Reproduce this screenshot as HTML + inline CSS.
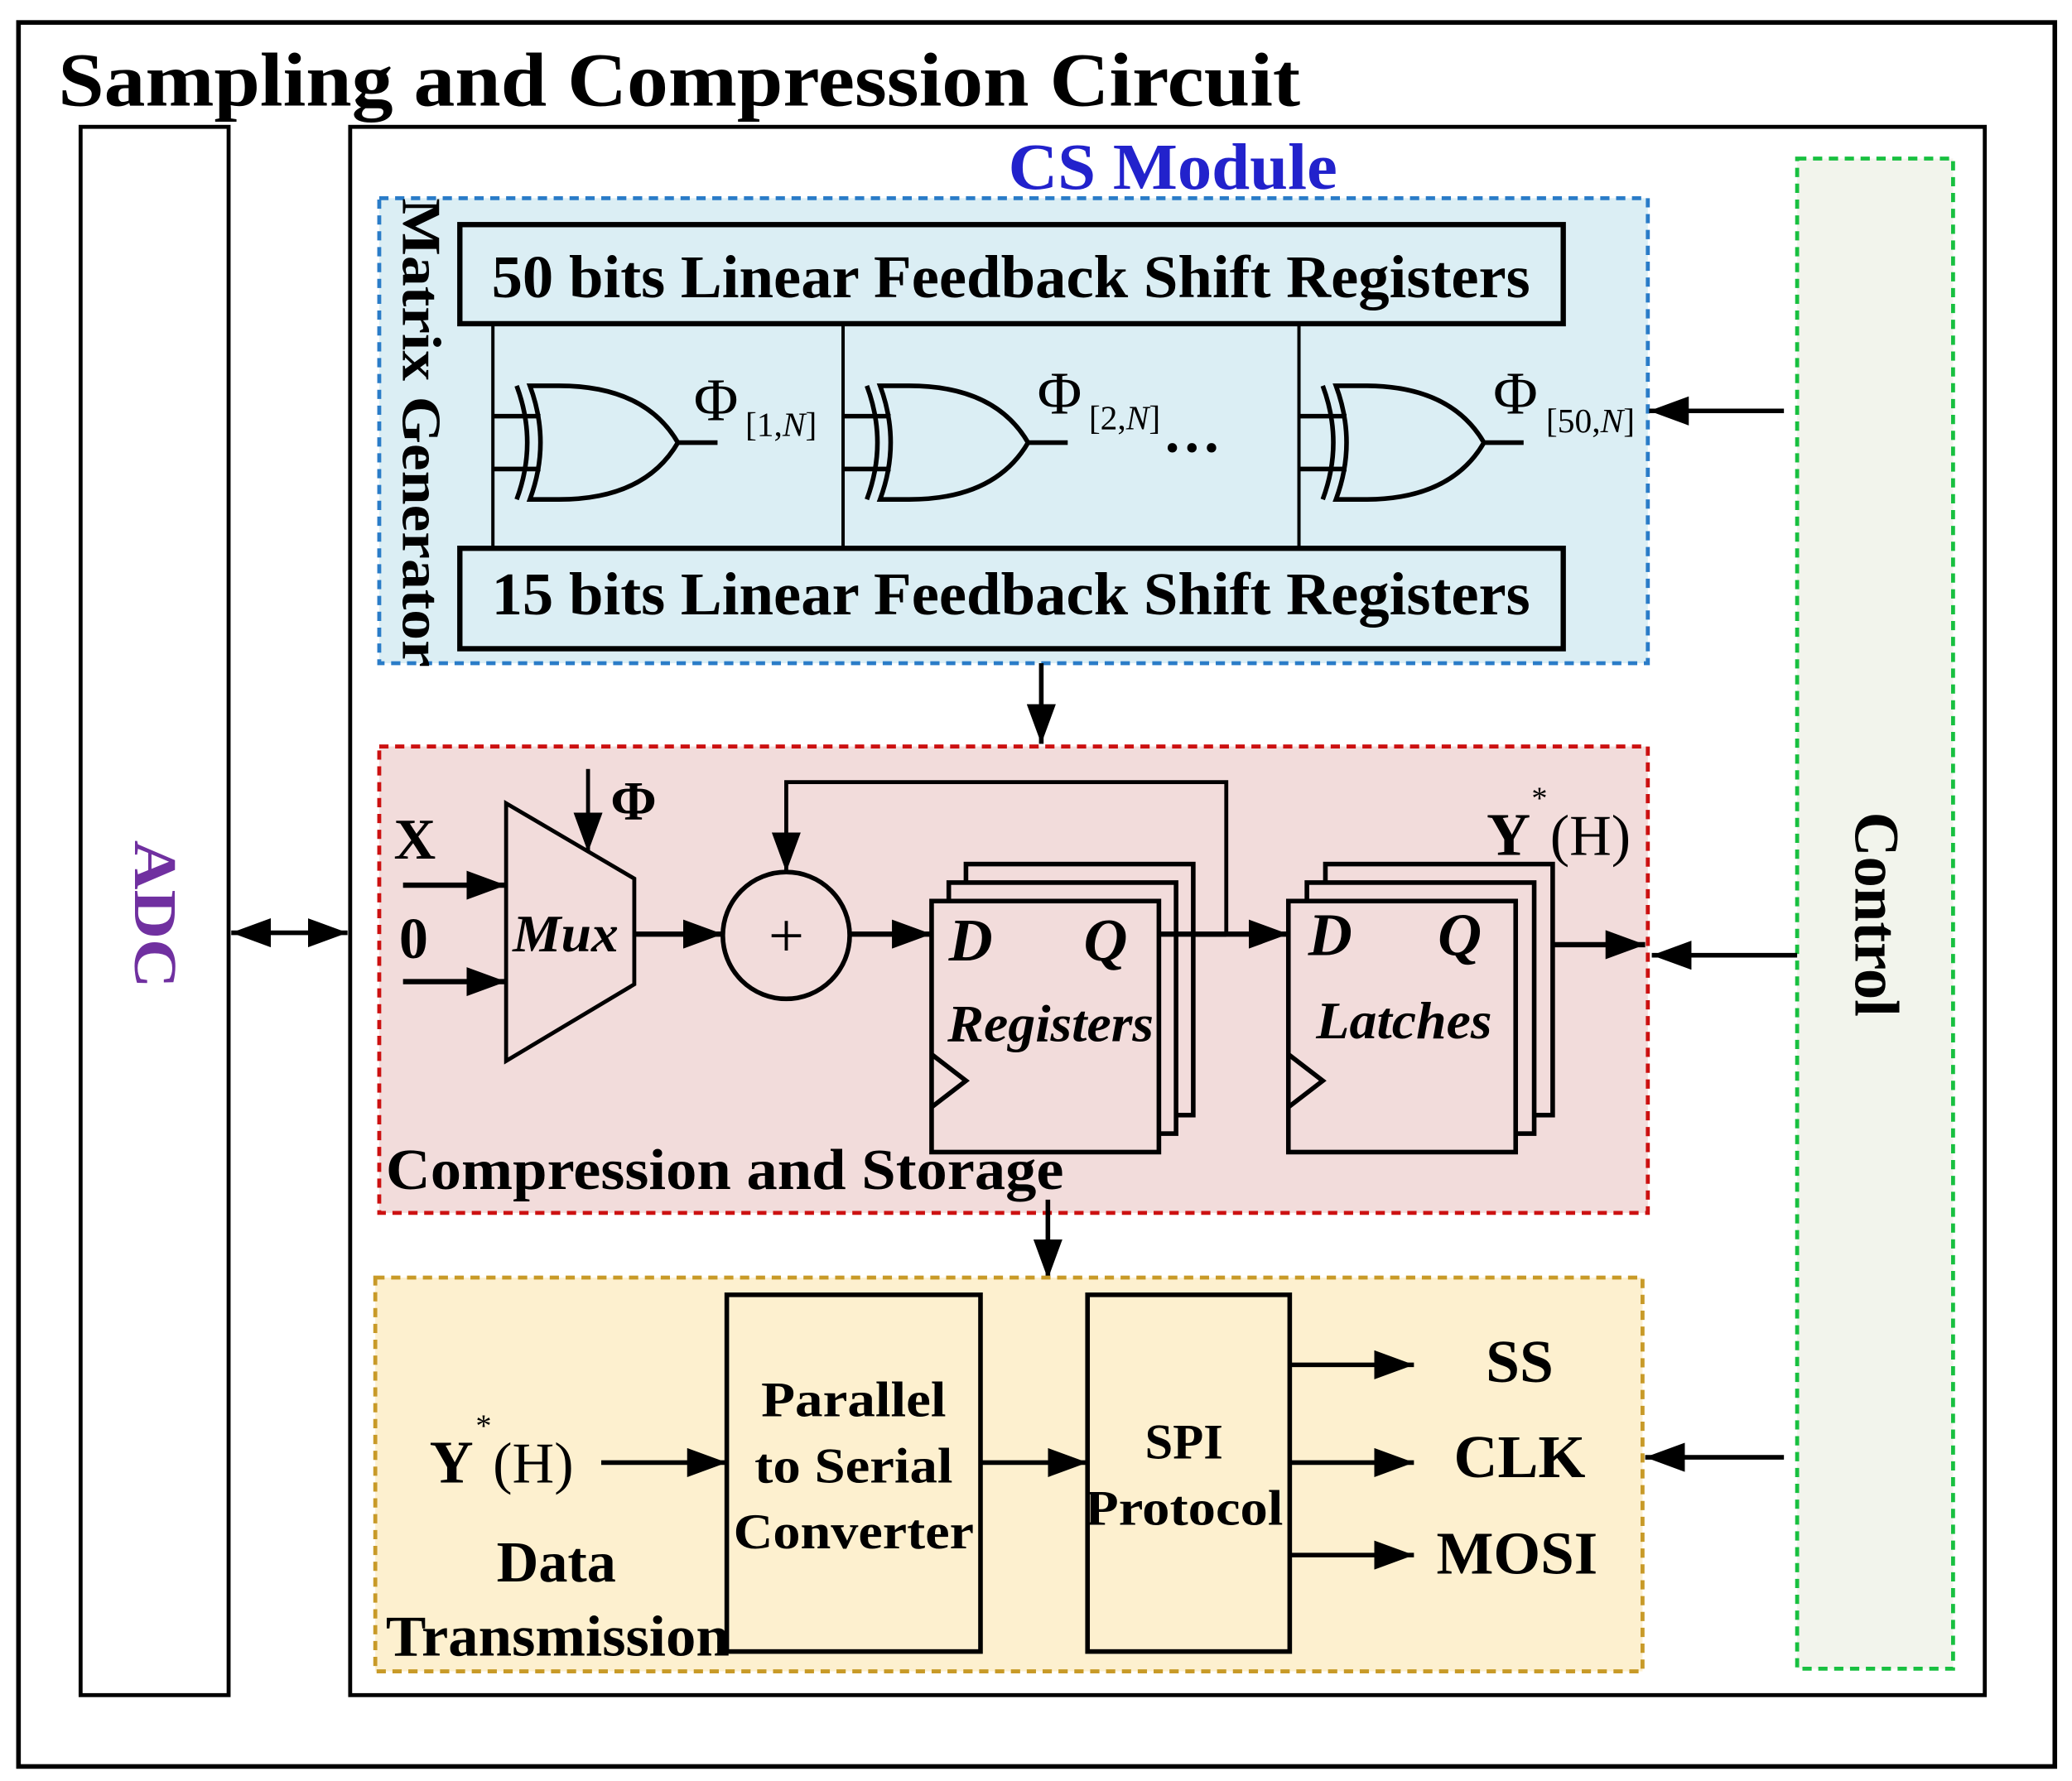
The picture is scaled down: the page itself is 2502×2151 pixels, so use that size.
<!DOCTYPE html>
<html><head><meta charset="utf-8"><style>html,body{margin:0;padding:0;background:#fff}svg{display:block}</style></head>
<body>
<svg width="2502" height="2151" viewBox="0 0 1568 1348" preserveAspectRatio="none" xmlns="http://www.w3.org/2000/svg" font-family="Liberation Serif, serif">
<defs>
<marker id="b" markerWidth="30" markerHeight="22" refX="30" refY="11" orient="auto" markerUnits="userSpaceOnUse"><path d="M0,0L30,11L0,22z" fill="#000"/></marker>
<marker id="bs" markerWidth="30" markerHeight="22" refX="0" refY="11" orient="auto" markerUnits="userSpaceOnUse"><path d="M30,0L0,11L30,22z" fill="#000"/></marker>
<g id="xor" fill="none" stroke="#000" stroke-width="3.5">
<path d="M28,-43 Q44,0 28,43 L50,43 Q115,43 140,0 Q115,-43 50,-43 Z"/>
<path d="M18,-43 Q34,0 18,43"/>
<path d="M0,-20 L36,-20 M0,20 L36,20 M140,0 L170,0"/>
</g>
</defs>
<rect x="14" y="17" width="1541" height="1320" fill="#fff" stroke="#000" stroke-width="3.5"/>
<text x="44" y="80" font-size="58" font-weight="bold" textLength="940" lengthAdjust="spacingAndGlyphs">Sampling and Compression Circuit</text>
<rect x="61" y="96" width="112" height="1187" fill="#fff" stroke="#000" stroke-width="3"/>
<text transform="translate(102,692) rotate(90)" font-size="46" font-weight="bold" fill="#7030a0" text-anchor="middle" textLength="112" lengthAdjust="spacingAndGlyphs">ADC</text>
<rect x="265" y="96" width="1237" height="1187" fill="#fff" stroke="#000" stroke-width="3"/>
<text x="763" y="143" font-size="50" font-weight="bold" fill="#2222cc" textLength="249" lengthAdjust="spacingAndGlyphs">CS Module</text>

<rect x="287" y="150" width="960" height="352" fill="#dbeef4" stroke="#2a7cc8" stroke-width="3" stroke-dasharray="7,5"/>
<text transform="translate(305,150) rotate(90)" font-size="42" font-weight="bold" textLength="355" lengthAdjust="spacingAndGlyphs">Matrix Generator</text>
<rect x="348" y="170" width="835" height="75" fill="#dbeef4" stroke="#000" stroke-width="4"/>
<text x="372" y="225" font-size="46" font-weight="bold" textLength="786" lengthAdjust="spacingAndGlyphs">50 bits Linear Feedback Shift Registers</text>
<rect x="348" y="415" width="835" height="76" fill="#dbeef4" stroke="#000" stroke-width="4"/>
<text x="372" y="465" font-size="46" font-weight="bold" textLength="786" lengthAdjust="spacingAndGlyphs">15 bits Linear Feedback Shift Registers</text>
<g stroke="#000" stroke-width="2.5"><line x1="373" y1="245" x2="373" y2="415"/><line x1="638" y1="245" x2="638" y2="415"/><line x1="983" y1="245" x2="983" y2="415"/></g>
<use href="#xor" x="373" y="335"/><use href="#xor" x="638" y="335"/><use href="#xor" x="983" y="335"/>
<g font-size="46"><text x="525" y="318">Φ</text><text x="564" y="330" font-size="26">[1,<tspan font-style="italic">N</tspan>]</text>
<text x="785" y="313">Φ</text><text x="824" y="325" font-size="26">[2,<tspan font-style="italic">N</tspan>]</text>
<text x="1130" y="313">Φ</text><text x="1170" y="327" font-size="26">[50,<tspan font-style="italic">N</tspan>]</text></g>
<text x="880" y="342" font-size="44" font-weight="bold">…</text>
<line x1="1350" y1="311" x2="1248" y2="311" stroke="#000" stroke-width="3.5" marker-end="url(#b)"/>
<line x1="788" y1="502" x2="788" y2="563" stroke="#000" stroke-width="3.5" marker-end="url(#b)"/>

<rect x="1360" y="120" width="118" height="1143" fill="#f2f4ec" stroke="#18c040" stroke-width="3" stroke-dasharray="7,5"/>
<text transform="translate(1404,692) rotate(90)" font-size="48" font-weight="bold" text-anchor="middle" textLength="155" lengthAdjust="spacingAndGlyphs">Control</text>

<rect x="287" y="565" width="960" height="353" fill="#f2dcdb" stroke="#cc1111" stroke-width="3" stroke-dasharray="7,5"/>
<path d="M383,608 L480,665 L480,745 L383,803 Z" fill="#f2dcdb" stroke="#000" stroke-width="3"/>
<text x="388" y="720" font-size="40" font-style="italic" font-weight="bold" textLength="80" lengthAdjust="spacingAndGlyphs">Mux</text>
<line x1="445" y1="582" x2="445" y2="645" stroke="#000" stroke-width="3" marker-end="url(#b)"/>
<text x="462" y="620" font-size="42" font-weight="bold">Φ</text>
<text x="298" y="650" font-size="44" font-weight="bold">X</text>
<text x="302" y="725" font-size="44" font-weight="bold">0</text>
<g stroke="#000" stroke-width="4">
<line x1="305" y1="670" x2="383" y2="670" marker-end="url(#b)"/>
<line x1="305" y1="743" x2="383" y2="743" marker-end="url(#b)"/>
<line x1="480" y1="707" x2="547" y2="707" marker-end="url(#b)"/>
<line x1="643" y1="707" x2="705" y2="707" marker-end="url(#b)"/>
<line x1="877" y1="707" x2="975" y2="707" marker-end="url(#b)"/>
<line x1="1147" y1="715" x2="1245" y2="715" marker-end="url(#b)"/>
</g>
<circle cx="595" cy="708" r="48" fill="#f2dcdb" stroke="#000" stroke-width="3.5"/>
<text x="595" y="724" font-size="48" text-anchor="middle">+</text>
<path d="M928,707 L928,592 L595,592 L595,660" fill="none" stroke="#000" stroke-width="3" marker-end="url(#b)"/>
<g fill="#f2dcdb" stroke="#000" stroke-width="3.5">
<rect x="731" y="654" width="172" height="190"/><rect x="718" y="668" width="172" height="190"/><rect x="705" y="682" width="172" height="190"/>
<path d="M705,798 L731,818 L705,838" fill="none"/>
<rect x="1003" y="654" width="172" height="190"/><rect x="989" y="668" width="172" height="190"/><rect x="975" y="682" width="172" height="190"/>
<path d="M975,798 L1001,818 L975,838" fill="none"/>
</g>
<line x1="877" y1="707" x2="928" y2="707" stroke="#000" stroke-width="4"/>
<g font-size="46" font-style="italic" font-weight="bold">
<text x="718" y="727">D</text><text x="820" y="727">Q</text>
<text x="990" y="723">D</text><text x="1088" y="723">Q</text>
</g>
<text x="717" y="788" font-size="40" font-style="italic" font-weight="bold" textLength="156" lengthAdjust="spacingAndGlyphs">Registers</text>
<text x="996" y="786" font-size="40" font-style="italic" font-weight="bold" textLength="133" lengthAdjust="spacingAndGlyphs">Latches</text>
<text x="1125" y="647" font-size="46" font-weight="bold">Y</text><text x="1159" y="612" font-size="24">*</text><text x="1173" y="647" font-size="44">(H)</text>
<line x1="1360" y1="723" x2="1250" y2="723" stroke="#000" stroke-width="3.5" marker-end="url(#b)"/>
<text x="292" y="900" font-size="44" font-weight="bold" textLength="513" lengthAdjust="spacingAndGlyphs">Compression and Storage</text>
<line x1="793" y1="908" x2="793" y2="968" stroke="#000" stroke-width="3.5" marker-end="url(#b)"/>

<rect x="284" y="967" width="959" height="298" fill="#fdf0cf" stroke="#c89a28" stroke-width="3" stroke-dasharray="7,5"/>
<rect x="550" y="980" width="192" height="270" fill="#fdf0cf" stroke="#000" stroke-width="3.5"/>
<rect x="823" y="980" width="153" height="270" fill="#fdf0cf" stroke="#000" stroke-width="3.5"/>
<g font-size="38" font-weight="bold" text-anchor="middle">
<text x="646" y="1072" textLength="140" lengthAdjust="spacingAndGlyphs">Parallel</text><text x="646" y="1122" textLength="150" lengthAdjust="spacingAndGlyphs">to Serial</text><text x="646" y="1172" textLength="182" lengthAdjust="spacingAndGlyphs">Converter</text>
<text x="896" y="1104">SPI</text><text x="896" y="1154" textLength="150" lengthAdjust="spacingAndGlyphs">Protocol</text>
</g>
<text x="325" y="1122" font-size="46" font-weight="bold">Y</text><text x="360" y="1087" font-size="24">*</text><text x="373" y="1122" font-size="44">(H)</text>
<text x="421" y="1197" font-size="44" font-weight="bold" text-anchor="middle">Data</text>
<text x="292" y="1253" font-size="44" font-weight="bold" textLength="260" lengthAdjust="spacingAndGlyphs">Transmission</text>
<g stroke="#000" stroke-width="3.5">
<line x1="455" y1="1107" x2="550" y2="1107" marker-end="url(#b)"/>
<line x1="742" y1="1107" x2="823" y2="1107" marker-end="url(#b)"/>
<line x1="976" y1="1033" x2="1070" y2="1033" marker-end="url(#b)"/>
<line x1="976" y1="1107" x2="1070" y2="1107" marker-end="url(#b)"/>
<line x1="976" y1="1177" x2="1070" y2="1177" marker-end="url(#b)"/>
<line x1="1350" y1="1103" x2="1245" y2="1103" marker-end="url(#b)"/>
<line x1="175" y1="706" x2="263" y2="706" marker-start="url(#bs)" marker-end="url(#b)"/>
</g>
<g font-size="46" font-weight="bold" text-anchor="middle">
<text x="1150" y="1046">SS</text><text x="1150" y="1118">CLK</text><text x="1148" y="1191" textLength="122" lengthAdjust="spacingAndGlyphs">MOSI</text>
</g>
</svg>
</body></html>
